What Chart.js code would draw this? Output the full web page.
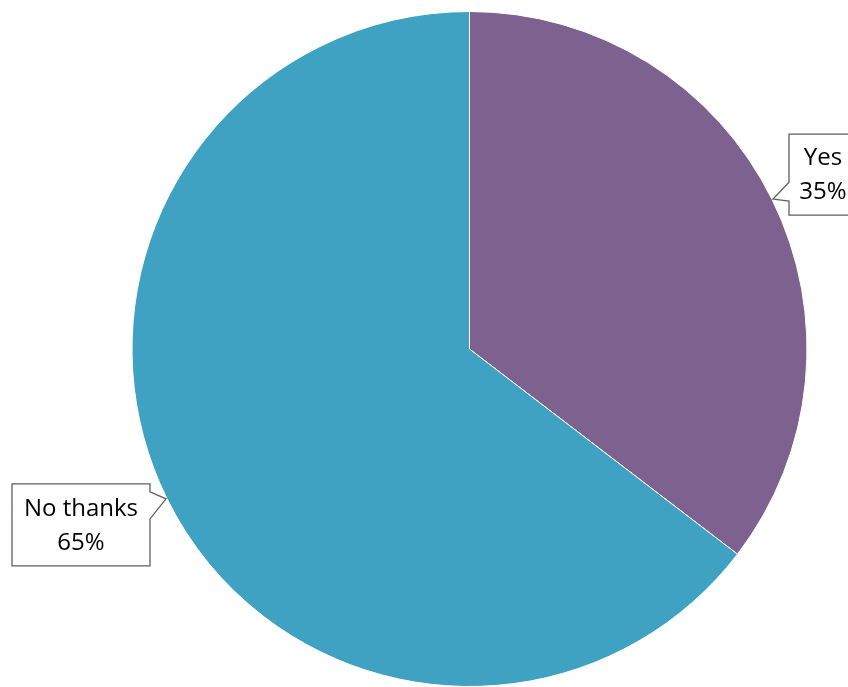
<!DOCTYPE html>
<html>
<head>
<meta charset="utf-8">
<script src="https://cdn.jsdelivr.net/npm/chart.js@4/dist/chart.umd.min.js"></script>
<style>
  html, body { margin: 0; padding: 0; background: #fff; }
  #wrap { width: 848px; height: 687px; position: relative; }
</style>
</head>
<body>
<div id="wrap"><canvas id="pie"></canvas></div>
<script>
var categorias = ['Yes', 'No thanks'];
var valores = [35.4, 64.6];
var cores = ['#7D618F', '#3FA2C2'];

// posição das caixas de rótulo, relativa à ponta do conector
var caixas = [
  { dx: 16, dy: -65, w: 90, h: 81, notch: [-47, -2] },
  { dx: -154, dy: -15, w: 138, h: 82, notch: [-7, 14] }
];

var calloutPlugin = {
  id: 'callouts',
  afterDatasetsDraw: function(chart) {
    var ctx = chart.ctx;
    var meta = chart.getDatasetMeta(0);
    var total = valores.reduce(function(a, b) { return a + b; }, 0);
    meta.data.forEach(function(arc, i) {
      var p = arc.getProps(['x', 'y', 'startAngle', 'endAngle', 'outerRadius'], true);
      var mid = (p.startAngle + p.endAngle) / 2;
      var tx = p.x + Math.cos(mid) * (p.outerRadius + 1);
      var ty = p.y + Math.sin(mid) * (p.outerRadius + 1);
      var b = caixas[i];
      var left = tx + b.dx, top = ty + b.dy, right = left + b.w, bottom = top + b.h;
      ctx.save();
      ctx.beginPath();
      if (b.dx > 0) {
        // conector no lado esquerdo
        ctx.moveTo(left, top);
        ctx.lineTo(right, top);
        ctx.lineTo(right, bottom);
        ctx.lineTo(left, bottom);
        ctx.lineTo(left, ty - b.notch[1]);
        ctx.lineTo(tx, ty);
        ctx.lineTo(left, ty + b.notch[0] + 30);
      } else {
        // conector no lado direito
        ctx.moveTo(left, top);
        ctx.lineTo(right, top);
        ctx.lineTo(right, ty + b.notch[0]);
        ctx.lineTo(tx, ty);
        ctx.lineTo(right, ty + b.notch[1] + 6);
        ctx.lineTo(right, bottom);
        ctx.lineTo(left, bottom);
      }
      ctx.closePath();
      ctx.fillStyle = '#ffffff';
      ctx.fill();
      ctx.strokeStyle = '#5f5f5f';
      ctx.lineWidth = 1.3;
      ctx.stroke();

      var pct = Math.round(valores[i] / total * 100) + '%';
      ctx.fillStyle = '#000000';
      ctx.font = '24px "Open Sans", sans-serif';
      ctx.textAlign = 'center';
      ctx.textBaseline = 'middle';
      var cx = i === 0 ? left + 34 : (left + right) / 2;
      ctx.fillText(categorias[i], cx, top + b.h / 2 - 16);
      ctx.fillText(pct, cx, top + b.h / 2 + 18);
      ctx.restore();
    });
  }
};

new Chart(document.getElementById('pie'), {
  type: 'pie',
  data: {
    labels: categorias,
    datasets: [{
      data: valores,
      backgroundColor: cores,
      borderColor: '#ffffff',
      borderWidth: 1
    }]
  },
  options: {
    responsive: true,
    maintainAspectRatio: false,
    animation: false,
    layout: { padding: { top: 11, bottom: -5, left: 129, right: 38 } },
    plugins: {
      legend: { display: false },
      tooltip: { enabled: false }
    }
  },
  plugins: [calloutPlugin]
});
</script>
</body>
</html>
